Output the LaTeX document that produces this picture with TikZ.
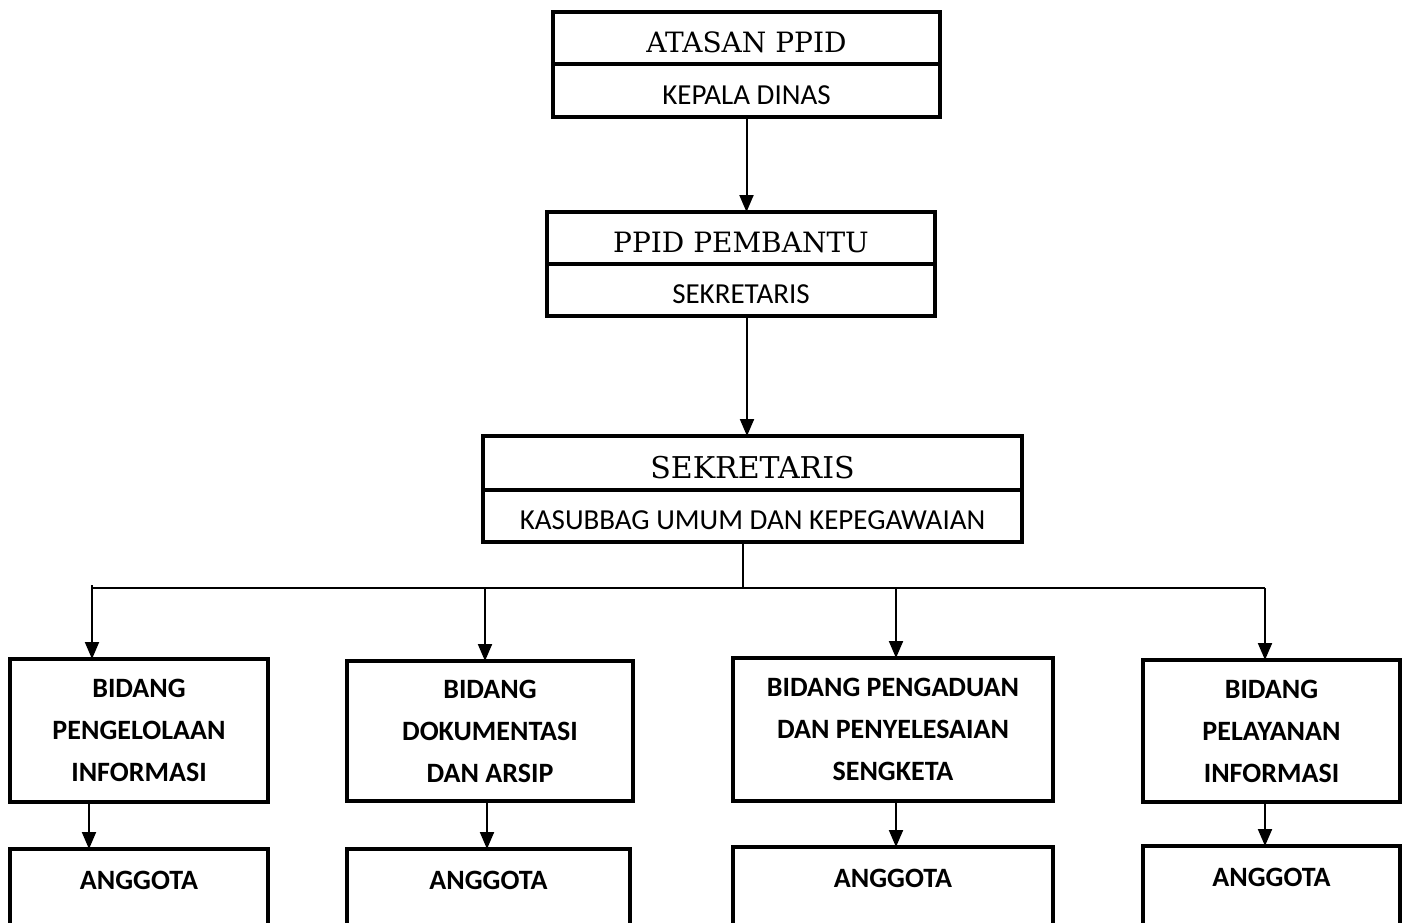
\documentclass[tikz,border=0pt]{standalone}
\usepackage{fontspec}
\setmainfont{DejaVu Serif}
\newfontfamily\carlito{Carlito}
\usetikzlibrary{arrows.meta,positioning}

\tikzset{
  box/.style={draw,line width=3.5pt,outer sep=0pt,inner sep=0pt,align=center},
  head/.style={box,font=\fontsize{28}{34}\selectfont,text height=28pt,text depth=0pt},
  sub/.style={box,font=\carlito\fontsize{29}{34}\selectfont,text height=27pt,text depth=0pt},
  bidang/.style={box,font=\carlito\bfseries\fontsize{28}{42}\selectfont},
  arr/.style={draw,line width=2pt,-{Triangle[width=14pt,length=17pt]}},
  line/.style={draw,line width=2pt}
}

\begin{document}
\begin{tikzpicture}[x=1pt,y=-1pt]
  \useasboundingbox (0,0) rectangle (1411,922);
  \clip (0,0) rectangle (1411,922);
  \fill[white] (0,0) rectangle (1411,922);

  %% top boxes
  \node[head,minimum width=387pt,minimum height=52pt] (atasan) at (746.5,38) {ATASAN PPID};
  \node[sub,minimum width=387pt,minimum height=53pt,below=0pt of atasan] (kadis) {KEPALA DINAS};

  \node[head,minimum width=388pt,minimum height=52pt] (ppid) at (741,238) {PPID PEMBANTU};
  \node[sub,minimum width=388pt,minimum height=52pt,below=0pt of ppid] (sekre) {SEKRETARIS};

  \node[head,font=\fontsize{30}{36}\selectfont,text height=30pt,minimum width=539pt,minimum height=54pt] (sekr) at (752.5,463) {SEKRETARIS};
  \node[sub,minimum width=539pt,minimum height=52pt,below=0pt of sekr] (kasub) {KASUBBAG UMUM DAN KEPEGAWAIAN};

  %% bidang
  \node[bidang,minimum width=258pt,minimum height=143pt] (bidA) at (139,730.5) {BIDANG\\PENGELOLAAN\\INFORMASI};
  \node[bidang,minimum width=286pt,minimum height=140pt] (bidB) at (490,731) {BIDANG\\DOKUMENTASI\\DAN ARSIP};
  \node[bidang,minimum width=320pt,minimum height=143pt] (bidC) at (893,729.5) {BIDANG PENGADUAN\\DAN PENYELESAIAN\\SENGKETA};
  \node[bidang,minimum width=257pt,minimum height=142pt] (bidD) at (1271.5,731) {BIDANG\\PELAYANAN\\INFORMASI};

  %% anggota
  \node[bidang,minimum width=258pt,minimum height=96pt,text depth=34pt] (angA) at (139,897) {ANGGOTA};
  \node[bidang,minimum width=283pt,minimum height=96pt,text depth=34pt] (angB) at (488.5,897) {ANGGOTA};
  \node[bidang,minimum width=320pt,minimum height=96pt,text depth=34pt] (angC) at (893,895) {ANGGOTA};
  \node[bidang,minimum width=257pt,minimum height=96pt,text depth=34pt] (angD) at (1271.5,894) {ANGGOTA};

  %% connectors
  \draw[arr] (kadis.south) -- (kadis.south |- ppid.north);
  \draw[arr] (sekre.south) ++(6,0) coordinate (s1) (s1) -- (s1 |- sekr.north);

  \coordinate (bus) at (743,588);
  \coordinate (busA) at (92,588);
  \coordinate (busB) at (485,588);
  \coordinate (busC) at (896,588);
  \coordinate (busD) at (1265,588);
  \draw[line] (bus |- kasub.south) -- (bus);
  \draw[line] (busA) -- (busD);
  \draw[line] (busA) -- ++(0,-3);
  \foreach \b/\n in {busA/bidA,busB/bidB,busC/bidC,busD/bidD}
    \draw[arr] (\b) -- (\b |- \n.north);

  \coordinate (dnA) at (89,820);
  \coordinate (dnB) at (487,820);
  \coordinate (dnC) at (896,820);
  \coordinate (dnD) at (1265,820);
  \foreach \d/\n/\m in {dnA/bidA/angA,dnB/bidB/angB,dnC/bidC/angC,dnD/bidD/angD}
    \draw[arr] (\d |- \n.south) -- (\d |- \m.north);
\end{tikzpicture}
\end{document}
